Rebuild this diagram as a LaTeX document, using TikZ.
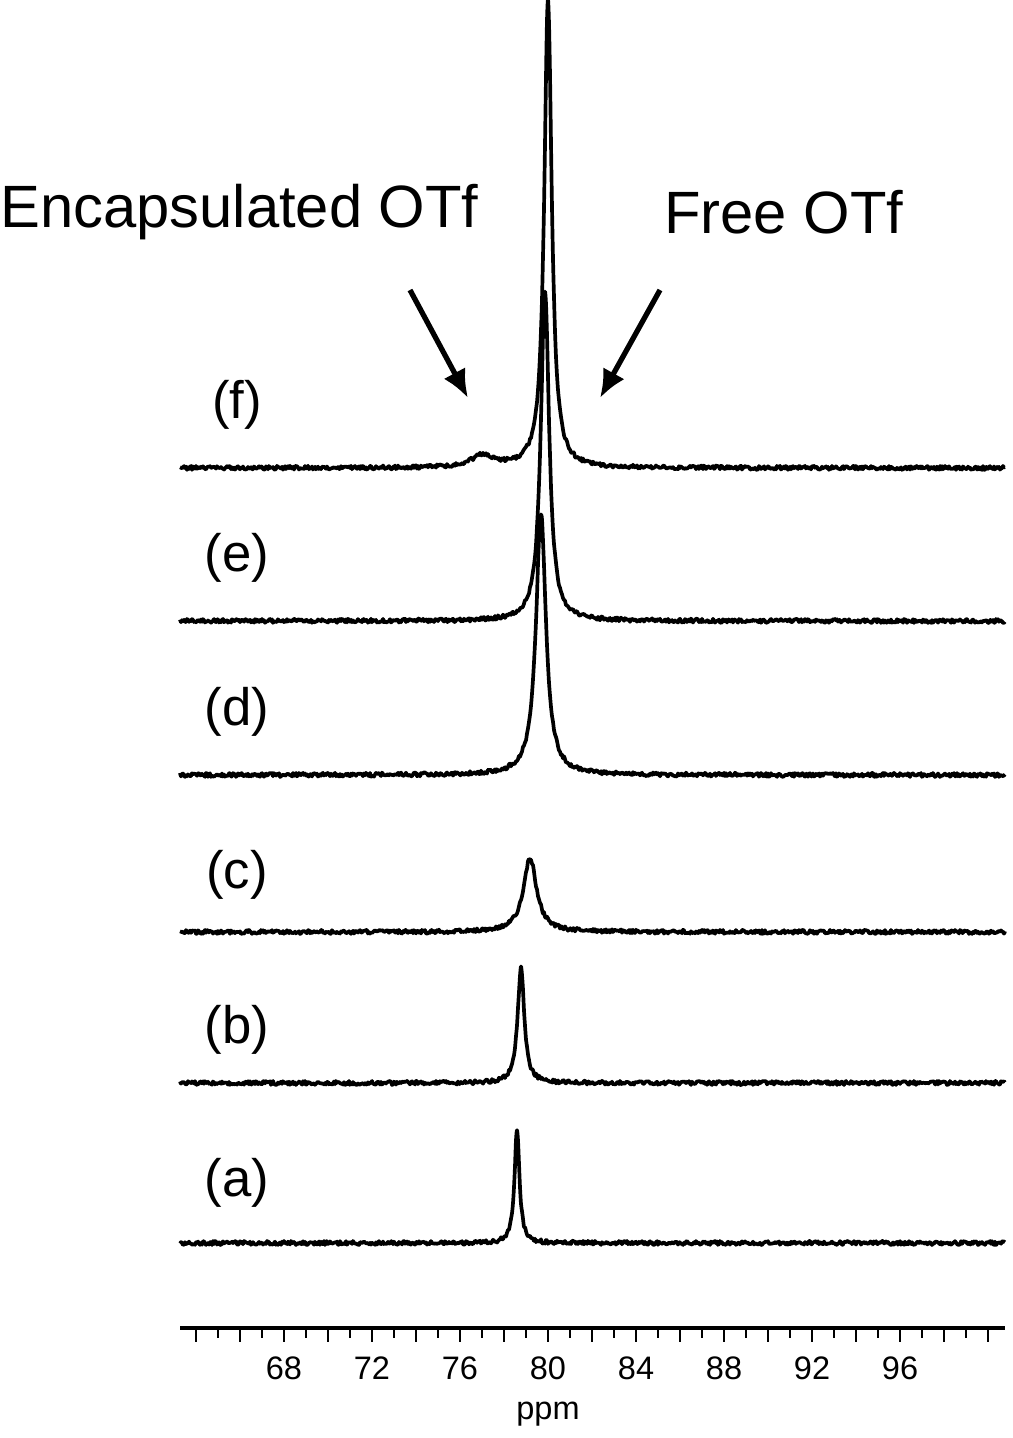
\documentclass[tikz,border=0pt]{standalone}
\usepackage{fontspec}
\setmainfont{Liberation Sans}
\usetikzlibrary{arrows.meta}
\begin{document}
\begin{tikzpicture}[x=0.02cm,y=-0.02cm,
  spec/.style={line width=2.1pt,line join=round},
  lab/.style={font=\fontsize{30}{34}\selectfont,inner sep=0},
  big/.style={font=\fontsize{34}{40}\selectfont,inner sep=0},
  ticklab/.style={font=\fontsize{18.5}{21}\selectfont,inner sep=0},
  arr/.style={line width=3pt,-{Latex[length=16pt,width=14pt]}}]
\useasboundingbox (0,0) rectangle (1013,1438);
\pgfmathsetseed{7}
\newcommand{\myspec}[5]{%
  \draw[spec] plot[domain=180:1005,samples=826,smooth] (\x,{#1-#3/(1+min(abs(\x-#2)/#4,120)^2)-#5+2*rand});}
\myspec{1243}{517}{113}{3}{0}
\myspec{1083}{521}{115}{4}{0}
\myspec{932}{530}{74}{8}{0}
\myspec{775}{541}{262}{6}{0}
\myspec{621}{545}{330}{5}{0}
\draw[spec] plot[domain=180:1005,samples=826,smooth] (\x,{468-468/(1+min(abs(\x-548)/4.5,120)^2)-12/(1+min(abs(\x-483)/14,120)^2)+2*rand});
\node[lab] (la) at (237,1183) {(a)};
\node[lab] (lb) at (237,1030) {(b)};
\node[lab] (lc) at (237,875) {(c)};
\node[lab] (ld) at (237,712) {(d)};
\node[lab] (le) at (237,558) {(e)};
\node[lab] (lf) at (237,405) {(f)};
\node[big,anchor=west] (enc) at (0,212) {Encapsulated OTf};
\node[big,anchor=west] (free) at (664,212) {Free OTf};
\coordinate (ea) at (410,290); \coordinate (eb) at (468,398);
\coordinate (fa) at (660,290); \coordinate (fb) at (600,398);
\draw[arr] (ea) -- (eb);
\draw[arr] (fa) -- (fb);
\draw[line width=2pt] (180,1328) -- (1005,1328);
\foreach \p in {64,...,100} {
  \pgfmathsetmacro{\xx}{548+(\p-80)*22}
  \pgfmathtruncatemacro{\ev}{mod(\p,2)}
  \ifnum\ev=0 \draw[line width=1pt] (\xx,1328) -- (\xx,1342); \else \draw[line width=1pt] (\xx,1328) -- (\xx,1338); \fi}
\foreach \p in {68,72,...,96} {
  \pgfmathsetmacro{\xx}{548+(\p-80)*22}
  \node[ticklab] at (\xx,1368) {\p};}
\node[ticklab] (ppm) at (548,1414) {ppm};
\end{tikzpicture}
\end{document}
